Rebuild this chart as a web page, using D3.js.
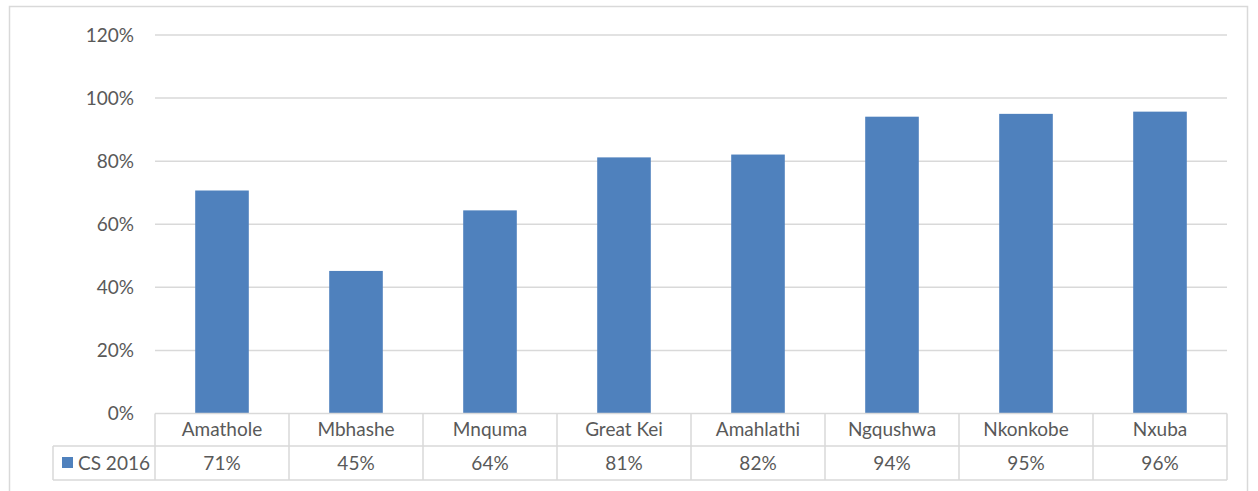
<!DOCTYPE html>
<html>
<head>
<meta charset="utf-8">
<script src="https://cdn.jsdelivr.net/npm/d3@7"></script>
<style>
  html, body { margin: 0; padding: 0; background: #fff; }
  svg { display: block; font-family: Lato, "Open Sans", sans-serif; }
</style>
</head>
<body>
<svg id="chart" width="1258" height="491"></svg>
<script>
// Municipalities and their CS 2016 shares
const categories = ["Amathole", "Mbhashe", "Mnquma", "Great Kei", "Amahlathi", "Ngqushwa", "Nkonkobe", "Nxuba"];
const cs2016 = [0.707, 0.452, 0.644, 0.812, 0.821, 0.941, 0.950, 0.957];
const seriesName = "CS 2016";
const yTicks = [0, 0.2, 0.4, 0.6, 0.8, 1.0, 1.2];

const svg = d3.select("#chart");
const textColor = "#595959";
const lineColor = "#d9d9d9";
const barColor = "#4f81bd";
const fontSize = 19;

const plot = { left: 155, right: 1227, top: 35, bottom: 413.5 };
const table = { legendLeft: 53, row1: 413.5, row2: 446, bottom: 480 };

// outer chart frame
svg.append("rect")
  .attr("x", 9.5).attr("y", 6.5)
  .attr("width", 1238).attr("height", 500)
  .attr("fill", "none").attr("stroke", lineColor).attr("stroke-width", 1.5);

const x = d3.scaleBand().domain(categories).range([plot.left, plot.right]).paddingInner(0.6).paddingOuter(0.3);
const xCell = d3.scaleBand().domain(categories).range([plot.left, plot.right]);
const y = d3.scaleLinear().domain([0, 1.2]).range([plot.bottom, plot.top]);

// gridlines
svg.append("g").selectAll("line")
  .data(yTicks.filter(t => t > 0))
  .join("line")
  .attr("x1", plot.left).attr("x2", plot.right)
  .attr("y1", d => y(d)).attr("y2", d => y(d))
  .attr("stroke", lineColor).attr("stroke-width", 1.5);

// y axis labels
const fmt = d3.format(".0%");
svg.append("g").selectAll("text")
  .data(yTicks)
  .join("text")
  .attr("x", 134).attr("y", d => y(d))
  .attr("dy", "0.35em")
  .attr("text-anchor", "end")
  .attr("fill", textColor).attr("font-size", fontSize)
  .text(d => fmt(d));

// bars
svg.append("g").selectAll("rect")
  .data(categories)
  .join("rect")
  .attr("x", d => x(d))
  .attr("width", x.bandwidth())
  .attr("y", (d, i) => y(cs2016[i]))
  .attr("height", (d, i) => y(0) - y(cs2016[i]))
  .attr("fill", barColor);

// data table
const tg = svg.append("g").attr("stroke", lineColor).attr("stroke-width", 1.5);
tg.append("line").attr("x1", plot.left).attr("x2", plot.right).attr("y1", table.row1).attr("y2", table.row1);
tg.append("line").attr("x1", table.legendLeft).attr("x2", plot.right).attr("y1", table.row2).attr("y2", table.row2);
tg.append("line").attr("x1", table.legendLeft).attr("x2", plot.right).attr("y1", table.bottom).attr("y2", table.bottom);
tg.append("line").attr("x1", table.legendLeft).attr("x2", table.legendLeft).attr("y1", table.row2).attr("y2", table.bottom);
tg.selectAll("line.v")
  .data(categories)
  .join("line")
  .attr("class", "v")
  .attr("x1", d => xCell(d)).attr("x2", d => xCell(d))
  .attr("y1", table.row1).attr("y2", table.bottom);
tg.append("line").attr("x1", plot.right).attr("x2", plot.right).attr("y1", table.row1).attr("y2", table.bottom);

// category names row
svg.append("g").selectAll("text")
  .data(categories)
  .join("text")
  .attr("x", d => xCell(d) + xCell.bandwidth() / 2)
  .attr("y", (table.row1 + table.row2) / 2)
  .attr("dy", "0.35em")
  .attr("text-anchor", "middle")
  .attr("fill", textColor).attr("font-size", fontSize)
  .text(d => d);

// values row
svg.append("g").selectAll("text")
  .data(categories)
  .join("text")
  .attr("x", d => xCell(d) + xCell.bandwidth() / 2)
  .attr("y", (table.row2 + table.bottom) / 2)
  .attr("dy", "0.35em")
  .attr("text-anchor", "middle")
  .attr("fill", textColor).attr("font-size", fontSize)
  .text((d, i) => fmt(cs2016[i]));

// legend key
svg.append("rect")
  .attr("x", 62).attr("y", 457).attr("width", 11).attr("height", 11)
  .attr("fill", barColor);
svg.append("text")
  .attr("x", 78).attr("y", (table.row2 + table.bottom) / 2)
  .attr("dy", "0.35em")
  .attr("fill", textColor).attr("font-size", fontSize)
  .text(seriesName);
</script>
</body>
</html>
